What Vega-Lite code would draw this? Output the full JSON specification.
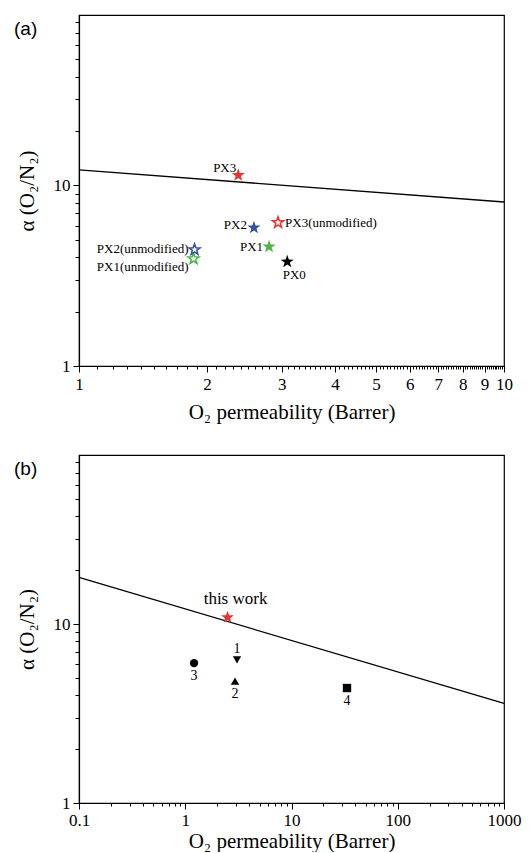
{
  "$schema": "https://vega.github.io/schema/vega-lite/v6.json",
  "padding": {"left": 13, "top": 12, "right": 5, "bottom": 0},
  "spacing": 29,
  "config": {
    "font": "Liberation Serif",
    "view": {"stroke": "black", "strokeWidth": 1.2},
    "axis": {"domainColor": "black", "domainWidth": 1.2, "tickColor": "black", "tickWidth": 1, "labelColor": "black", "titleColor": "black", "labelFont": "Liberation Serif", "titleFont": "Liberation Serif", "labelFontSize": 17, "titleFontSize": 21, "titleFontWeight": "normal", "grid": false, "labelOverlap": false, "labelFlush": false}
  },
  "datasets": {
    "boundA": [{"P": 1, "alpha": 12.2}, {"P": 10, "alpha": 8.1}],
    "pointsA": [
      {"name": "PX0", "series": "PX0", "modified": true, "P": 3.09, "alpha": 3.78},
      {"name": "PX1", "series": "PX1", "modified": true, "P": 2.8, "alpha": 4.58},
      {"name": "PX2", "series": "PX2", "modified": true, "P": 2.58, "alpha": 5.84},
      {"name": "PX3", "series": "PX3", "modified": true, "P": 2.37, "alpha": 11.4},
      {"name": "PX1(unmodified)", "series": "PX1", "modified": false, "P": 1.86, "alpha": 3.93},
      {"name": "PX2(unmodified)", "series": "PX2", "modified": false, "P": 1.87, "alpha": 4.41},
      {"name": "PX3(unmodified)", "series": "PX3", "modified": false, "P": 2.94, "alpha": 6.23}
    ],
    "boundB": [{"P": 0.1, "alpha": 18.2}, {"P": 1000, "alpha": 3.6}],
    "pointsB": [
      {"name": "this work", "P": 2.5, "alpha": 10.9},
      {"name": "1", "P": 3.07, "alpha": 6.3},
      {"name": "2", "P": 2.94, "alpha": 4.8},
      {"name": "3", "P": 1.21, "alpha": 6.05},
      {"name": "4", "P": 33.3, "alpha": 4.39}
    ]
  },
  "vconcat": [
    {
      "width": 425,
      "height": 351,
      "title": {"text": "(a)", "anchor": "start", "frame": "group", "font": "Liberation Sans", "fontSize": 19, "fontWeight": "normal", "color": "black", "baseline": "middle", "offset": 0, "dx": -65, "dy": 35},
      "encoding": {
        "x": {"field": "P", "type": "quantitative", "scale": {"type": "log", "domain": [1, 10], "nice": false},
          "axis": {"title": "O₂ permeability (Barrer)", "titlePadding": 9, "labelFont": "Liberation Serif", "titleFont": "Liberation Serif",
            "values": [1,1.1,1.2,1.3,1.4,1.5,1.6,1.7,1.8,1.9,2,2.1,2.2,2.3,2.4,2.5,2.6,2.7,2.8,2.9,3,3.1,3.2,3.3,3.4,3.5,3.6,3.7,3.8,3.9,4,4.1,4.2,4.3,4.4,4.5,4.6,4.7,4.8,4.9,5,5.1,5.2,5.3,5.4,5.5,5.6,5.7,5.8,5.9,6,6.1,6.2,6.3,6.4,6.5,6.6,6.7,6.8,6.9,7,7.1,7.2,7.3,7.4,7.5,7.6,7.7,7.8,7.9,8,8.1,8.2,8.3,8.4,8.5,8.6,8.7,8.8,8.9,9,9.1,9.2,9.3,9.4,9.5,9.6,9.7,9.8,9.9,10],
            "labelExpr": "datum.value == round(datum.value) ? format(datum.value, 'd') : ''",
            "tickSize": {"condition": {"test": "datum.value == round(datum.value)", "value": 6}, "value": 3},
            "labelPadding": 4}},
        "y": {"field": "alpha", "type": "quantitative", "scale": {"type": "log", "domain": [1, 88], "nice": false},
          "axis": {"title": "α (O₂/N₂)", "titlePadding": 16, "labelFont": "Liberation Serif", "titleFont": "Liberation Serif",
            "values": [1,2,3,4,5,6,7,8,9,10,20,30,40,50,60,70,80],
            "labelExpr": "datum.value == 1 || datum.value == 10 ? format(datum.value, 'd') : ''",
            "tickSize": {"condition": {"test": "datum.value == 1 || datum.value == 10", "value": 6}, "value": 4},
            "labelPadding": 3}}
      },
      "layer": [
        {"data": {"name": "boundA"}, "mark": {"type": "line", "color": "black", "strokeWidth": 1.3}, "encoding": {}},
        {"data": {"name": "pointsA"}, "transform": [{"filter": "datum.modified"}],
          "mark": {"type": "point", "shape": "M0,-1L0.235,-0.324L0.951,-0.309L0.38,0.124L0.588,0.809L0,0.4L-0.588,0.809L-0.38,0.124L-0.951,-0.309L-0.235,-0.324Z", "filled": true, "opacity": 1, "size": 190},
          "encoding": {"color": {"field": "series", "type": "nominal", "scale": {"domain": ["PX0", "PX1", "PX2", "PX3"], "range": ["black", "#4cb648", "#3451a3", "#e8332f"]}, "legend": null}}},
        {"data": {"name": "pointsA"}, "transform": [{"filter": "!datum.modified"}],
          "mark": {"type": "point", "shape": "M0,-1L0.235,-0.324L0.951,-0.309L0.38,0.124L0.588,0.809L0,0.4L-0.588,0.809L-0.38,0.124L-0.951,-0.309L-0.235,-0.324Z", "filled": false, "fill": "white", "fillOpacity": 1, "opacity": 1, "strokeWidth": 1.5, "size": 135},
          "encoding": {"color": {"field": "series", "type": "nominal", "scale": {"domain": ["PX0", "PX1", "PX2", "PX3"], "range": ["black", "#4cb648", "#3451a3", "#e8332f"]}, "legend": null}}},
        {"data": {"name": "pointsA"}, "transform": [{"filter": "datum.name == 'PX3'"}],
          "mark": {"type": "text", "font": "Liberation Serif", "fontSize": 13, "align": "right", "baseline": "middle", "dx": -2, "dy": -7, "color": "black"},
          "encoding": {"text": {"field": "name"}}},
        {"data": {"name": "pointsA"}, "transform": [{"filter": "datum.name == 'PX2'"}],
          "mark": {"type": "text", "font": "Liberation Serif", "fontSize": 13, "align": "right", "baseline": "middle", "dx": -7, "dy": -3, "color": "black"},
          "encoding": {"text": {"field": "name"}}},
        {"data": {"name": "pointsA"}, "transform": [{"filter": "datum.name == 'PX3(unmodified)'"}],
          "mark": {"type": "text", "font": "Liberation Serif", "fontSize": 13, "align": "left", "baseline": "middle", "dx": 7, "dy": 0, "color": "black"},
          "encoding": {"text": {"field": "name"}}},
        {"data": {"name": "pointsA"}, "transform": [{"filter": "datum.name == 'PX1'"}],
          "mark": {"type": "text", "font": "Liberation Serif", "fontSize": 13, "align": "right", "baseline": "middle", "dx": -6, "dy": 0, "color": "black"},
          "encoding": {"text": {"field": "name"}}},
        {"data": {"name": "pointsA"}, "transform": [{"filter": "datum.name == 'PX0'"}],
          "mark": {"type": "text", "font": "Liberation Serif", "fontSize": 13, "align": "center", "baseline": "middle", "dx": 7, "dy": 13, "color": "black"},
          "encoding": {"text": {"field": "name"}}},
        {"data": {"name": "pointsA"}, "transform": [{"filter": "datum.name == 'PX2(unmodified)'"}],
          "mark": {"type": "text", "font": "Liberation Serif", "fontSize": 13, "align": "right", "baseline": "middle", "dx": -6, "dy": -1, "color": "black"},
          "encoding": {"text": {"field": "name"}}},
        {"data": {"name": "pointsA"}, "transform": [{"filter": "datum.name == 'PX1(unmodified)'"}],
          "mark": {"type": "text", "font": "Liberation Serif", "fontSize": 13, "align": "right", "baseline": "middle", "dx": -5, "dy": 8, "color": "black"},
          "encoding": {"text": {"field": "name"}}}
      ]
    },
    {
      "width": 425,
      "height": 348,
      "title": {"text": "(b)", "anchor": "start", "frame": "group", "font": "Liberation Sans", "fontSize": 19, "fontWeight": "normal", "color": "black", "baseline": "middle", "offset": 0, "dx": -65, "dy": 35},
      "encoding": {
        "x": {"field": "P", "type": "quantitative", "scale": {"type": "log", "domain": [0.1, 1000], "nice": false},
          "axis": {"title": "O₂ permeability (Barrer)", "titlePadding": 2, "labelFont": "Liberation Serif", "titleFont": "Liberation Serif",
            "values": [0.1,0.2,0.3,0.4,0.5,0.6,0.7,0.8,0.9,1,2,3,4,5,6,7,8,9,10,20,30,40,50,60,70,80,90,100,200,300,400,500,600,700,800,900,1000],
            "labelExpr": "indexof([0.1,1,10,100,1000], datum.value) >= 0 ? format(datum.value, '~g') : ''",
            "tickSize": {"condition": {"test": "indexof([0.1,1,10,100,1000], datum.value) >= 0", "value": 6}, "value": 3},
            "labelPadding": 3}},
        "y": {"field": "alpha", "type": "quantitative", "scale": {"type": "log", "domain": [1, 88], "nice": false},
          "axis": {"title": "α (O₂/N₂)", "titlePadding": 16, "labelFont": "Liberation Serif", "titleFont": "Liberation Serif",
            "values": [1,2,3,4,5,6,7,8,9,10,20,30,40,50,60,70,80],
            "labelExpr": "datum.value == 1 || datum.value == 10 ? format(datum.value, 'd') : ''",
            "tickSize": {"condition": {"test": "datum.value == 1 || datum.value == 10", "value": 6}, "value": 4},
            "labelPadding": 3}}
      },
      "layer": [
        {"data": {"name": "boundB"}, "mark": {"type": "line", "color": "black", "strokeWidth": 1.3}, "encoding": {}},
        {"data": {"name": "pointsB"}, "transform": [{"filter": "datum.name == 'this work'"}],
          "mark": {"type": "point", "shape": "M0,-1L0.235,-0.324L0.951,-0.309L0.38,0.124L0.588,0.809L0,0.4L-0.588,0.809L-0.38,0.124L-0.951,-0.309L-0.235,-0.324Z", "filled": true, "opacity": 1, "size": 180, "color": "#e8332f"}},
        {"data": {"name": "pointsB"}, "transform": [{"filter": "datum.name != 'this work'"}],
          "mark": {"type": "point", "filled": true, "opacity": 1, "color": "black"},
          "encoding": {
            "shape": {"field": "name", "type": "nominal", "scale": {"domain": ["1", "2", "3", "4"], "range": ["triangle-down", "triangle-up", "circle", "square"]}, "legend": null},
            "size": {"field": "name", "type": "nominal", "scale": {"domain": ["1", "2", "3", "4"], "range": [70, 70, 56, 52]}, "legend": null}}},
        {"data": {"name": "pointsB"}, "transform": [{"filter": "datum.name == 'this work'"}],
          "mark": {"type": "text", "font": "Liberation Serif", "fontSize": 17, "align": "center", "baseline": "middle", "dx": 8, "dy": -18, "color": "black"},
          "encoding": {"text": {"field": "name"}}},
        {"data": {"name": "pointsB"}, "transform": [{"filter": "datum.name == '1'"}],
          "mark": {"type": "text", "font": "Liberation Serif", "fontSize": 14, "align": "center", "baseline": "middle", "dy": -11, "color": "black"},
          "encoding": {"text": {"field": "name"}}},
        {"data": {"name": "pointsB"}, "transform": [{"filter": "datum.name == '2' || datum.name == '3' || datum.name == '4'"}],
          "mark": {"type": "text", "font": "Liberation Serif", "fontSize": 14, "align": "center", "baseline": "middle", "dy": 13, "color": "black"},
          "encoding": {"text": {"field": "name"}}}
      ]
    }
  ]
}
